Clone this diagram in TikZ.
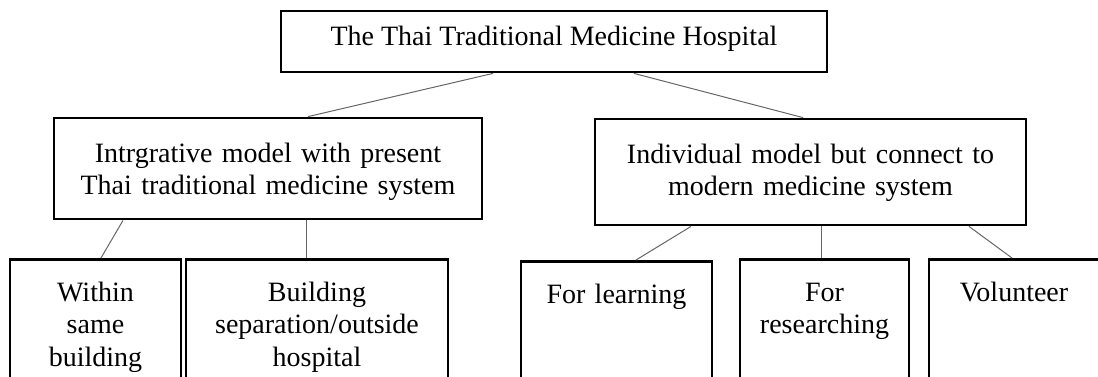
\documentclass[tikz,border=0pt]{standalone}
\usepackage{fontspec}
\setmainfont{Liberation Serif}

\begin{document}
\begin{tikzpicture}[x=1pt, y=-1pt,
    box/.style={draw, line width=2.8pt, font=\fontsize{28}{32.5}\selectfont, align=center, inner xsep=4pt},
    leaf/.style={box, anchor=north, inner ysep=6pt, text height=36pt, text depth=160pt},
    link/.style={draw=black!60, line width=1pt}]

    % Рамка рисунка (нижние блоки обрезаны)
    \useasboundingbox (0,0) rectangle (1098,376);
    \clip (0,0) rectangle (1098,376);

    % Верхний блок
    \node[box, minimum width=546pt, minimum height=61pt, text height=19pt, text depth=12pt] (hosp) at (554,41.5) {The Thai Traditional Medicine Hospital};

    % Две модели
    \node[box, text width=400pt, minimum width=428pt, minimum height=101pt, text height=19pt, text depth=32pt] (integ) at (268,168.5) {Intrgrative model with present\\Thai traditional medicine system};
    \node[box, text width=400pt, minimum width=431pt, minimum height=106pt, text height=19pt, text depth=37pt] (indiv) at (810.5,172) {Individual model but connect to\\modern medicine system};

    % Нижние блоки
    \node[leaf, text width=163pt] (within) at (95.5,258) {Within\\same\\building};
    \node[leaf, text width=254pt] (build) at (317,258) {Building\\separation/outside\\hospital};
    \node[leaf, text width=183pt] (learn) at (616.5,260) {For learning};
    \node[leaf, text width=161pt] (research) at (824.5,258) {For\\researching};
    \node[leaf, text width=162pt] (volunt) at (1014,258) {Volunteer};

    % Соединительные линии
    \draw[link] ([xshift=-61pt]hosp.south) -- ([xshift=40pt]integ.north);
    \draw[link] ([xshift=80pt]hosp.south) -- ([xshift=-7.5pt]indiv.north);

    \draw[link] ([xshift=-145pt]integ.south) -- ([xshift=5.5pt]within.north);
    \draw[link] ([xshift=38pt]integ.south) -- ([xshift=-11pt]build.north);

    \draw[link] ([xshift=-119.5pt]indiv.south) -- ([xshift=19.5pt]learn.north);
    \draw[link] ([xshift=10.5pt]indiv.south) -- ([xshift=-3.5pt]research.north);
    \draw[link] ([xshift=158.5pt]indiv.south) -- ([xshift=-2pt]volunt.north);
\end{tikzpicture}
\end{document}
